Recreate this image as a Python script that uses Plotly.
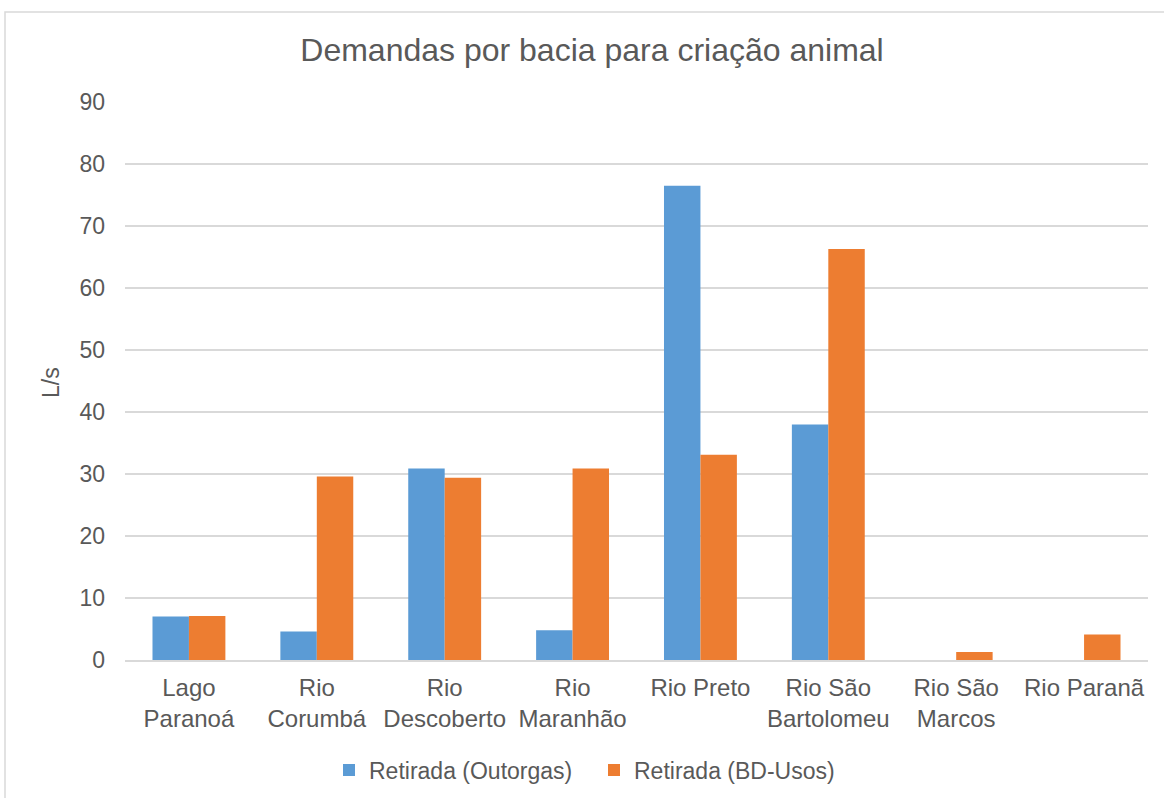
import plotly.graph_objects as go

categories = ["Lago<br>Paranoá", "Rio<br>Corumbá", "Rio<br>Descoberto", "Rio<br>Maranhão",
              "Rio Preto", "Rio São<br>Bartolomeu", "Rio São<br>Marcos", "Rio Paranã"]
outorgas = [7.0, 4.6, 30.9, 4.8, 76.5, 38.0, 0, 0]
bd_usos = [7.1, 29.6, 29.4, 30.9, 33.1, 66.3, 1.3, 4.1]

font_family = "Liberation Sans, Arial, sans-serif"
gray = "#595959"

W, H = 1164, 798
L, R, T, B = 125, 16, 102, 138
pw, ph = W - L - R, H - T - B

fig = go.Figure()
fig.add_trace(go.Bar(x=categories, y=outorgas, name="Retirada (Outorgas)",
                     marker=dict(color="#5B9BD5", line=dict(width=0))))
fig.add_trace(go.Bar(x=categories, y=bd_usos, name="Retirada (BD-Usos)",
                     marker=dict(color="#ED7D31", line=dict(width=0))))

fig.update_layout(
    width=W, height=H,
    paper_bgcolor="white", plot_bgcolor="white",
    margin=dict(l=L, r=R, t=T, b=B),
    barmode="group", bargap=0.43, bargroupgap=0,
    title=dict(text="Demandas por bacia para criação animal", x=592 / W, xanchor="center",
               xref="container", y=1 - 50 / H, yanchor="middle",
               font=dict(family=font_family, size=32, color=gray)),
    font=dict(family=font_family, size=24, color=gray),
    xaxis=dict(showgrid=False, showline=True, linecolor="#D9D9D9", linewidth=1.5,
               ticks="", automargin=False, ticklabelstandoff=5,
               tickfont=dict(size=24, color=gray)),
    yaxis=dict(range=[0, 90], dtick=10, showgrid=True, gridcolor="#D9D9D9", gridwidth=1.5,
               zeroline=False, showline=False, ticks="", automargin=False,
               ticklabelstandoff=19,
               tickfont=dict(size=23, color=gray)),
    showlegend=True,
    legend=dict(orientation="h", x=594 / W, xanchor="center", xref="container",
                y=(H - 770) / H, yanchor="middle", yref="container",
                font=dict(size=23, color=gray), itemwidth=30, tracegroupgap=0,
                entrywidth=220, entrywidthmode="pixels"),
    annotations=[dict(text="L/s", textangle=-90, xref="paper", yref="paper",
                      x=-(L - 51) / pw, y=(660 - 383) / ph, xanchor="center", yanchor="middle",
                      showarrow=False, font=dict(size=23, color=gray))],
    shapes=[dict(type="rect", xref="paper", yref="paper",
                 x0=-(L - 5) / pw, x1=1 + (R + 20) / pw,
                 y0=-(B + 20) / ph, y1=1 + (T - 12) / ph,
                 line=dict(color="#D9D9D9", width=1.5), fillcolor="rgba(0,0,0,0)", layer="below")],
)

fig.write_html("out.html", config={"displayModeBar": False},
               post_script="document.body.style.margin='0';document.body.style.overflow='hidden';")
